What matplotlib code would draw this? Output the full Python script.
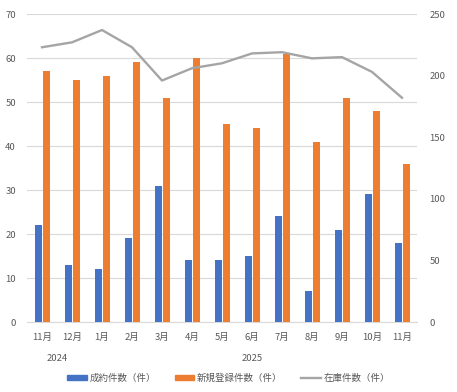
import matplotlib
matplotlib.use("Agg")
import matplotlib.pyplot as plt
from matplotlib.transforms import blended_transform_factory
from matplotlib.lines import Line2D
from matplotlib.patches import Patch

plt.rcParams['font.family'] = ['Noto Sans CJK JP', 'DejaVu Sans']

months = ["11月", "12月", "1月", "2月", "3月", "4月", "5月", "6月", "7月", "8月", "9月", "10月", "11月"]
years = ["2024", "2025"]
year_spans = [(0, 1), (2, 12)]
contracts = [22, 13, 12, 19, 31, 14, 14, 15, 24, 7, 21, 29, 18]
new_listings = [57, 55, 56, 59, 51, 60, 45, 44, 61, 41, 51, 48, 36]
inventory = [223, 227, 237, 223, 196, 206, 210, 218, 219, 214, 215, 203, 182]

W, H = 457, 392
fig = plt.figure(figsize=(W / 100, H / 100), dpi=100)
ax = fig.add_axes([27 / W, (H - 322) / H, (417 - 27) / W, (322 - 14) / H])
ax2 = ax.twinx()

txt = '#595959'
fs = 6.8
x = list(range(len(months)))
bw = 0.235
ax.bar([i - 0.125 for i in x], contracts, width=bw, color='#4472C4', zorder=3)
ax.bar([i + 0.14 for i in x], new_listings, width=bw, color='#ED7D31', zorder=3)
ax2.plot(x, inventory, color='#A5A5A5', lw=1.7, zorder=4)

ax.set_xlim(-0.5, len(months) - 0.5)
ax.set_ylim(0, 70)
ax.set_yticks(range(0, 71, 10))
ax2.set_ylim(0, 250)
ax2.set_yticks(range(0, 251, 50))
ax.yaxis.grid(True, color='#D9D9D9', lw=0.8, zorder=0)
ax.set_axisbelow(True)
ax.set_xticks(x)
ax.set_xticklabels(months)
for a in (ax, ax2):
    for s in a.spines.values():
        s.set_visible(False)
    a.tick_params(length=0, labelsize=fs, labelcolor=txt)
ax.spines['bottom'].set_visible(True)
ax.spines['bottom'].set_color('#D9D9D9')
ax.tick_params(axis='y', pad=8)
ax.tick_params(axis='x', pad=8)
ax2.tick_params(axis='y', pad=9)
for t in ax2.get_yticklabels():
    t.set_ha('left')

tr = blended_transform_factory(ax.transData, ax.transAxes)
for label, (a0, a1) in zip(years, year_spans):
    ax.text((a0 + a1) / 2, -0.117, label, transform=tr, ha='center', va='center',
            fontsize=fs, color=txt)

handles = [Patch(color='#4472C4'), Patch(color='#ED7D31'),
           Line2D([0], [0], color='#A5A5A5', lw=1.7)]
labels = ["成約件数（件）", "新規登録件数（件）", "在庫件数（件）"]
fig.legend(handles, labels, loc='center', bbox_to_anchor=(0.5, (H - 378) / H),
           ncol=3, frameon=False, fontsize=fs, labelcolor=txt,
           handlelength=2.1, handleheight=0.45, handletextpad=0.25, columnspacing=2.0)

fig.savefig('out.png', dpi=100)
